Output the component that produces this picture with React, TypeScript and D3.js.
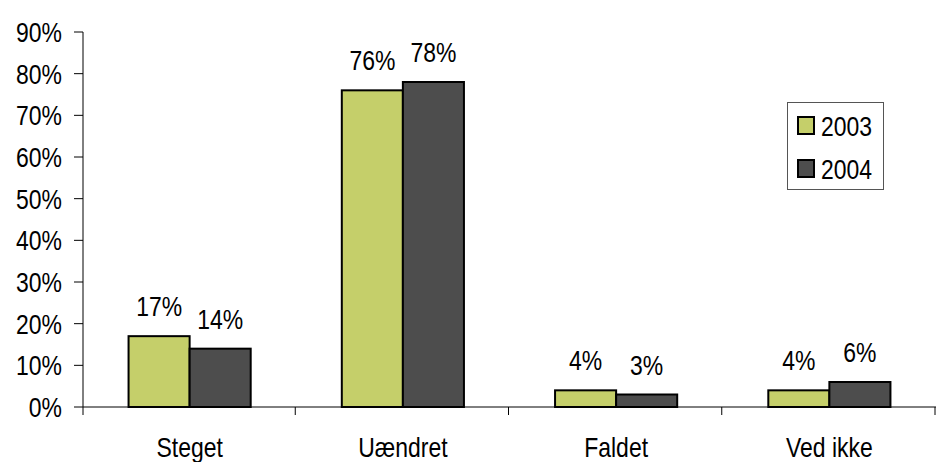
import { useEffect, useRef } from 'react'
import * as d3 from 'd3'

const CATEGORIES = ['Steget', 'Uændret', 'Faldet', 'Ved ikke']
const SERIES = ['2003', '2004']
const VALUES_2003 = [17, 76, 4, 4]
const VALUES_2004 = [14, 78, 3, 6]
const Y_TICKS = [0, 10, 20, 30, 40, 50, 60, 70, 80, 90]
const COLORS = ['#c5cf6a', '#4d4d4d']

const FONT = '"Liberation Sans", Arial, sans-serif'
// the original uses a narrow face; squeeze a regular one
const SQUEEZE = 0.82

const place = (x: number, y: number) => `translate(${x},${y}) scale(${SQUEEZE},1)`

export default function App() {
  const ref = useRef<SVGSVGElement>(null)

  useEffect(() => {
    const svg = d3.select(ref.current)
    svg.selectAll('*').remove()

    const width = 936
    const height = 462
    const left = 83
    const right = 936
    const top = 32
    const bottom = 407

    const x = d3.scaleBand().domain(CATEGORIES).range([left, right]).paddingInner(0).paddingOuter(0)
    const inner = d3.scaleBand().domain(SERIES).range([0, x.bandwidth()]).paddingInner(0).paddingOuter(0.746)
    const y = d3.scaleLinear().domain([0, 90]).range([bottom, top])

    svg.attr('width', width).attr('height', height).style('font-family', FONT)

    // y axis
    const gy = svg.append('g').attr('transform', `translate(${left},0)`)
    gy.append('line').attr('x1', 0).attr('x2', 0).attr('y1', top).attr('y2', bottom + 8).attr('stroke', '#000')
    gy.selectAll('line.tick')
      .data(Y_TICKS)
      .join('line')
      .attr('class', 'tick')
      .attr('x1', -9)
      .attr('x2', 0)
      .attr('y1', d => y(d))
      .attr('y2', d => y(d))
      .attr('stroke', '#000')
    gy.selectAll('text')
      .data(Y_TICKS)
      .join('text')
      .attr('transform', d => place(-21, y(d)))
      .attr('dy', '0.36em')
      .attr('text-anchor', 'end')
      .attr('font-size', 28)
      .text(d => `${d}%`)

    // x axis
    svg.append('line').attr('x1', left).attr('x2', right).attr('y1', bottom).attr('y2', bottom).attr('stroke', '#000')
    const bounds = CATEGORIES.map(c => (x(c) ?? 0) + x.bandwidth())
    svg.selectAll('line.xtick')
      .data(bounds)
      .join('line')
      .attr('class', 'xtick')
      .attr('x1', d => d - 1)
      .attr('x2', d => d - 1)
      .attr('y1', bottom)
      .attr('y2', bottom + 8)
      .attr('stroke', '#000')
    svg.selectAll('text.xlab')
      .data(CATEGORIES)
      .join('text')
      .attr('class', 'xlab')
      .attr('transform', d => place((x(d) ?? 0) + x.bandwidth() / 2, 457))
      .attr('text-anchor', 'middle')
      .attr('font-size', 28)
      .text(d => d)

    const data = SERIES.flatMap((s, si) =>
      CATEGORIES.map((c, ci) => ({ c, s, si, v: si === 0 ? VALUES_2003[ci] : VALUES_2004[ci] }))
    )

    const bars = svg.append('g')
    bars.selectAll('rect')
      .data(data)
      .join('rect')
      .attr('x', d => (x(d.c) ?? 0) + (inner(d.s) ?? 0))
      .attr('y', d => y(d.v))
      .attr('width', inner.bandwidth())
      .attr('height', d => bottom - y(d.v))
      .attr('fill', d => COLORS[d.si])
      .attr('stroke', '#000')
      .attr('stroke-width', 2)

    bars.selectAll('text')
      .data(data)
      .join('text')
      .attr('transform', d => place((x(d.c) ?? 0) + (inner(d.s) ?? 0) + inner.bandwidth() / 2, y(d.v) - 20))
      .attr('text-anchor', 'middle')
      .attr('font-size', 28)
      .text(d => `${d.v}%`)

    // legend
    const lg = svg.append('g')
    lg.append('rect')
      .attr('x', 787.5)
      .attr('y', 102.5)
      .attr('width', 96)
      .attr('height', 87)
      .attr('fill', '#fff')
      .attr('stroke', '#555')
      .attr('stroke-width', 1)
    SERIES.forEach((s, i) => {
      const yy = 117 + i * 43
      lg.append('rect')
        .attr('x', 798)
        .attr('y', yy)
        .attr('width', 16)
        .attr('height', 17)
        .attr('fill', COLORS[i])
        .attr('stroke', '#000')
        .attr('stroke-width', 2)
      lg.append('text')
        .attr('transform', place(821, yy + 19))
        .attr('font-size', 28)
        .text(s)
    })
  }, [])

  return (
    <div style={{ position: 'absolute', left: 0, top: 0, width: 936, height: 462, background: '#fff' }}>
      <svg ref={ref} style={{ display: 'block' }} />
    </div>
  )
}
